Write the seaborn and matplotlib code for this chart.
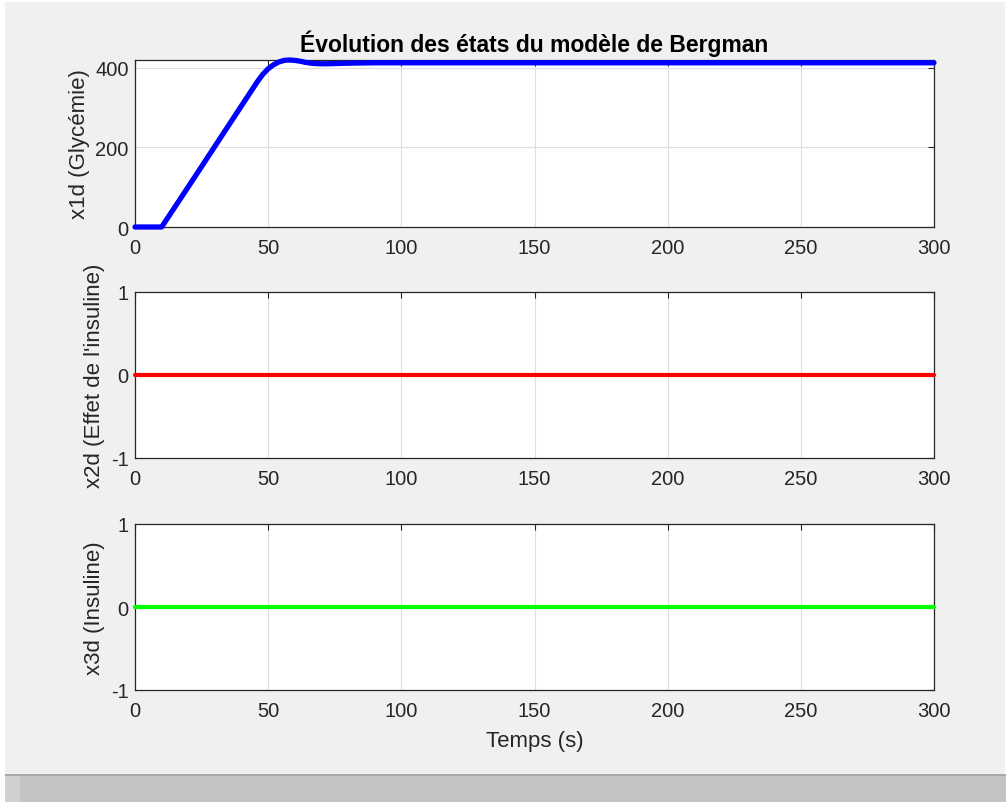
import matplotlib
matplotlib.use("Agg")
import matplotlib.pyplot as plt
import pandas as pd
import seaborn as sns
from matplotlib.patches import Rectangle

# Simulated states of the Bergman model
t_x1 = [0, 10, 20, 30, 40, 46, 48, 50, 52, 54, 56, 58, 60, 62, 64, 66, 68, 70,
        72, 75, 80, 90, 100, 150, 200, 250, 300]
x1d = [0, 0, 101, 203, 305, 366, 384, 398, 408, 415, 419, 420, 419, 417, 414,
       412, 411, 410.5, 410.5, 411, 412, 413, 413, 413, 413, 413, 413]
t_x23 = [0, 300]
x2d = [0, 0]
x3d = [0, 0]

x_ticks = [0, 50, 100, 150, 200, 250, 300]
y1_ticks = [0, 200, 400]
y23_ticks = [-1, 0, 1]

title = "Évolution des états du modèle de Bergman"
y_labels = ["x1d (Glycémie)", "x2d (Effet de l'insuline)", "x3d (Insuline)"]
x_label = "Temps (s)"

sns.set_style("white")
plt.rcParams["font.family"] = ["Liberation Sans", "DejaVu Sans"]
plt.rcParams["axes.unicode_minus"] = False

W, H = 1006, 803
fig = plt.figure(figsize=(W / 100, H / 100), dpi=100)
fig.patch.set_facecolor("white")

# window panel and the strip below it
fig.patches.append(Rectangle((5 / W, 1 - 775 / H), 1000 / W, 772 / H,
                             transform=fig.transFigure, facecolor="#f0f0f0",
                             edgecolor="none", zorder=-10))
fig.patches.append(Rectangle((5 / W, 0), 1001 / W, 1 - 777 / H,
                             transform=fig.transFigure, facecolor="#c4c4c4",
                             edgecolor="none", zorder=-10))
fig.patches.append(Rectangle((5 / W, 0), 15 / W, 1 - 777 / H,
                             transform=fig.transFigure, facecolor="#d0d0d0",
                             edgecolor="none", zorder=-9))
fig.patches.append(Rectangle((5 / W, 1 - 777 / H), 1001 / W, 2 / H,
                             transform=fig.transFigure, facecolor="#a9a9a9",
                             edgecolor="none", zorder=-9))

left, right = 135, 934
boxes = [(61, 228), (293, 459), (525, 691)]
axes = []
for top, bot in boxes:
    ax = fig.add_axes([left / W, 1 - bot / H, (right - left) / W, (bot - top) / H])
    axes.append(ax)

dark = "#262626"
series = [
    (t_x1, x1d, "#0000ff", 3.8),
    (t_x23, x2d, "#ff0000", 3.0),
    (t_x23, x3d, "#00ff00", 3.0),
]
for i, (ax, (tt, yy, col, lw)) in enumerate(zip(axes, series)):
    df = pd.DataFrame({"t": tt, "v": yy})
    sns.lineplot(data=df, x="t", y="v", ax=ax, color=col, linewidth=lw,
                 zorder=5, clip_on=False)
    ax.set_facecolor("white")
    ax.set_xlim(0, 300)
    ax.set_xticks(x_ticks)
    if i == 0:
        ax.set_ylim(0, 420)
        ax.set_yticks(y1_ticks)
    else:
        ax.set_ylim(-1, 1)
        ax.set_yticks(y23_ticks)
    ax.grid(True, color="#dfdfdf", linewidth=0.8)
    ax.set_axisbelow(True)
    for s in ax.spines.values():
        s.set_visible(True)
        s.set_color(dark)
        s.set_linewidth(0.9)
    ax.tick_params(direction="in", length=4, width=0.8, colors=dark,
                   top=True, right=True, labelsize=14.5)
    ax.tick_params(axis="x", pad=8)
    ax.tick_params(axis="y", pad=4.5)
    ax.set_ylabel(y_labels[i], fontsize=16, color=dark, labelpad=4)
    ax.set_xlabel("")

axes[0].set_title(title, fontsize=16.5, fontweight="bold", color="black", pad=6.5)
axes[2].set_xlabel(x_label, fontsize=16, color=dark, labelpad=7)

fig.savefig("out.png", dpi=100)
